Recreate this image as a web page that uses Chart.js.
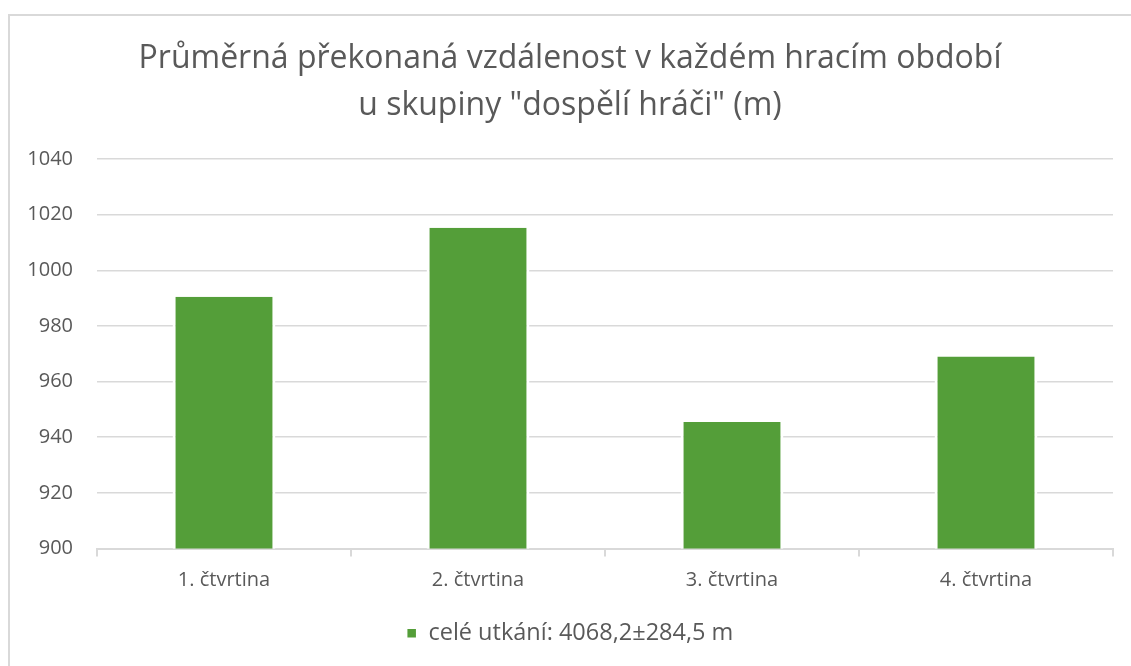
<!DOCTYPE html>
<html>
<head>
<meta charset="utf-8">
<script src="https://cdn.jsdelivr.net/npm/chart.js@4/dist/chart.umd.min.js"></script>
<style>
    body { margin: 0; background: #fff; overflow: hidden; }
    .frame { position: absolute; left: 8px; top: 14px; width: 1200px; height: 700px;
             border-top: 2px solid #d9d9d9; border-left: 2px solid #d9d9d9; }
    .wrap { position: absolute; left: 10px; top: 16px; width: 1121px; height: 650px; }
</style>
</head>
<body>
<div class="frame"></div>
<div class="wrap"><canvas id="distanceChart"></canvas></div>
<script>
// Data
const quarters = ['1. čtvrtina', '2. čtvrtina', '3. čtvrtina', '4. čtvrtina'];
const avgDistance = [990.5, 1015.3, 945.5, 969];
const seriesLabel = 'celé utkání: 4068,2±284,5 m';
const titleLines = ['Průměrná překonaná vzdálenost v každém hracím období', 'u skupiny "dospělí hráči" (m)'];
const yMin = 900, yMax = 1040, yStep = 20;

const textGray = '#595959';
const gridGray = '#d9d9d9';
const barGreen = '#549e39';
const fontFamily = '"Open Sans", "Liberation Sans", sans-serif';

const ctx = document.getElementById('distanceChart').getContext('2d');

new Chart(ctx, {
    type: 'bar',
    data: {
        labels: quarters,
        datasets: [{
            label: seriesLabel,
            data: avgDistance,
            backgroundColor: barGreen,
            borderColor: '#ffffff',
            borderWidth: { left: 3, right: 3, top: 0, bottom: 0 },
            categoryPercentage: 1,
            barPercentage: 0.405
        }]
    },
    options: {
        responsive: true,
        maintainAspectRatio: false,
        animation: false,
        layout: { padding: { left: 17, right: 18, top: 0, bottom: 11 } },
        plugins: {
            title: {
                display: true,
                text: titleLines,
                color: textGray,
                font: { family: fontFamily, size: 32, weight: 'normal', lineHeight: 1.47 },
                padding: { top: 19, bottom: 30 }
            },
            legend: {
                position: 'bottom',
                labels: {
                    color: textGray,
                    font: { family: fontFamily, size: 23.5 },
                    boxWidth: 10,
                    boxHeight: 10,
                    padding: 10
                }
            },
            tooltip: { enabled: false }
        },
        scales: {
            x: {
                grid: {
                    offset: true,
                    drawOnChartArea: false,
                    drawTicks: true,
                    tickLength: 8,
                    color: gridGray,
                    lineWidth: 2
                },
                border: { color: gridGray, width: 2 },
                ticks: {
                    color: textGray,
                    font: { family: fontFamily, size: 20 },
                    padding: 12
                },
                afterFit: (scale) => { scale.height += 7; }
            },
            y: {
                min: yMin,
                max: yMax,
                ticks: {
                    stepSize: yStep,
                    color: textGray,
                    font: { family: fontFamily, size: 20 },
                    padding: 24,
                    callback: (v) => String(v)
                },
                grid: { color: gridGray, lineWidth: 1.5, drawTicks: false },
                border: { display: false },
                afterFit: (scale) => { scale.width = 70; }
            }
        }
    }
});
</script>
</body>
</html>
